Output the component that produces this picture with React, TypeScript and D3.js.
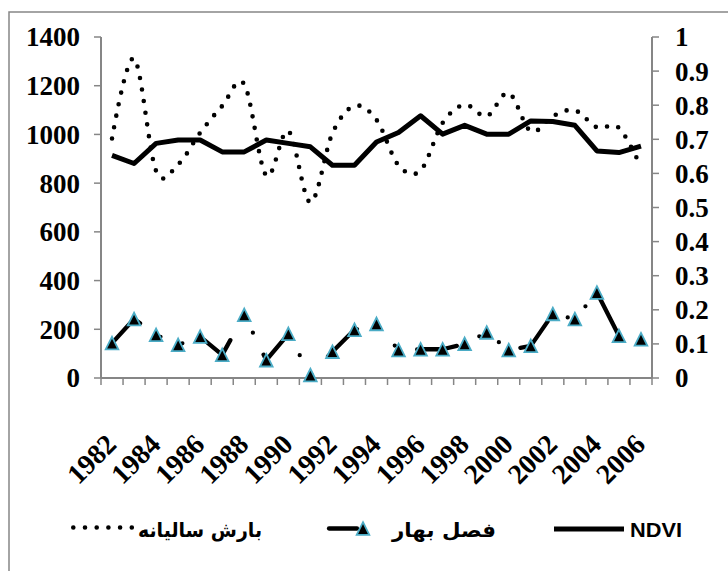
import React from "react";
import * as d3 from "d3";

const years = d3.range(1982, 2007).map(String);
const xTickLabels = ["1982","1984","1986","1988","1990","1992","1994","1996","1998","2000","2002","2004","2006"];
const leftTicks = [0, 200, 400, 600, 800, 1000, 1200, 1400];
const rightTicks = [0, 0.1, 0.2, 0.3, 0.4, 0.5, 0.6, 0.7, 0.8, 0.9, 1];

const ndvi = [0.653, 0.629, 0.688, 0.698, 0.698, 0.663, 0.663, 0.698, 0.688, 0.678, 0.624, 0.624, 0.692, 0.72, 0.769, 0.715, 0.741, 0.715, 0.715, 0.754, 0.752, 0.741, 0.666, 0.661, 0.68];
const annualRain = [983, 1312, 850, 877, 1007, 1117, 1206, 831, 1014, 721, 1005, 1117, 1060, 873, 852, 1047, 1122, 1075, 1170, 1013, 1075, 1099, 1029, 1027, 866];
const springRain = [143, 242, 177, 136, 170, 95, 259, 73, 181, 12, 108, 198, 222, 115, 118, 118, 140, 187, 115, 132, 263, 242, 351, 173, 159];

const legendNames = ["NDVI", "فصل بهار", "بارش سالیانه"];

const W = 728, H = 571;
const plot = { left: 101, right: 652, top: 37, bottom: 378 };
const axisColor = "#868686";
const markerStroke = "#4BACC6";
const serif = "Liberation Serif, Times New Roman, Tinos, DejaVu Serif, serif";
const sans = "Liberation Sans, Arial, sans-serif";
const arabic = "DejaVu Sans, sans-serif";

function triPath(s: number) {
  return `M0,${-s}L${s},${s}L${-s},${s}Z`;
}

export default function App() {
  const x = d3.scaleBand<string>().domain(years).range([plot.left, plot.right]);
  const cx = (i: number) => (x(years[i]) as number) + x.bandwidth() / 2;
  const yL = d3.scaleLinear().domain([0, 1400]).range([plot.bottom, plot.top]);
  const yR = d3.scaleLinear().domain([0, 1]).range([plot.bottom, plot.top]);

  const ndviLine = d3.line<number>().x((_, i) => cx(i)).y((d) => yR(d));
  const rainLine = d3.line<number>().x((_, i) => cx(i)).y((d) => yL(d)).curve(d3.curveCardinal.tension(0));
  const springLine = d3.line<number>().x((_, i) => cx(i)).y((d) => yL(d));

  const boundaries = d3.range(years.length + 1).map((i) => plot.left + i * x.step());

  return (
    <svg width={W} height={H} style={{ position: "absolute", left: 0, top: 0, background: "#fff" }}>
      <rect x={0} y={0} width={W} height={H} fill="#fff" />
      <rect x={9} y={12} width={W + 10} height={H + 10} fill="none" stroke={axisColor} strokeWidth={1.5} />

      {/* left axis */}
      <line x1={plot.left} x2={plot.left} y1={plot.top} y2={plot.bottom} stroke={axisColor} strokeWidth={2} />
      {leftTicks.map((t) => (
        <g key={"l" + t}>
          <line x1={plot.left - 7} x2={plot.left} y1={yL(t)} y2={yL(t)} stroke={axisColor} strokeWidth={1.5} />
          <text x={80} y={yL(t)} dy="0.35em" textAnchor="end" fontFamily={serif} fontWeight="bold" fontSize={27}>{t}</text>
        </g>
      ))}
      {/* right axis */}
      <line x1={plot.right} x2={plot.right} y1={plot.top} y2={plot.bottom} stroke={axisColor} strokeWidth={2} />
      {rightTicks.map((t) => (
        <g key={"r" + t}>
          <line x1={plot.right} x2={plot.right + 7} y1={yR(t)} y2={yR(t)} stroke={axisColor} strokeWidth={1.5} />
          <text x={675} y={yR(t)} dy="0.35em" textAnchor="start" fontFamily={serif} fontWeight="bold" fontSize={27}>{d3.format("~g")(t)}</text>
        </g>
      ))}
      {/* x axis */}
      <line x1={plot.left} x2={plot.right} y1={plot.bottom} y2={plot.bottom} stroke={axisColor} strokeWidth={2} />
      {boundaries.map((b, i) => (
        <line key={"b" + i} x1={b} x2={b} y1={plot.bottom} y2={plot.bottom + 7} stroke={axisColor} strokeWidth={1.5} />
      ))}
      {xTickLabels.map((lab) => {
        const i = years.indexOf(lab);
        const px = cx(i) + 6;
        const py = 446;
        return (
          <text key={lab} transform={`translate(${px},${py}) rotate(-45)`} textAnchor="end" fontFamily={serif} fontWeight="bold" fontSize={28}>{lab}</text>
        );
      })}

      {/* spring rainfall */}
      <path d={springLine(springRain) as string} fill="none" stroke="#000" strokeWidth={4.3} strokeLinecap="round" strokeLinejoin="round" strokeDasharray="40 24.6 0 23.9 0 24.5" />
      {springRain.map((v, i) => (
        <path key={"m" + i} d={triPath(6.3)} transform={`translate(${cx(i)},${yL(v)})`} fill="#000" stroke={markerStroke} strokeWidth={1.8} />
      ))}

      {/* annual rainfall */}
      <path d={rainLine(annualRain) as string} fill="none" stroke="#000" strokeWidth={4.6} strokeLinecap="round" strokeDasharray="0 11.7" />

      {/* NDVI */}
      <path d={ndviLine(ndvi) as string} fill="none" stroke="#000" strokeWidth={5} strokeLinejoin="round" />

      {/* legend */}
      <line x1={554} x2={624} y1={529} y2={529} stroke="#000" strokeWidth={5} />
      <text x={630} y={530} dy="0.35em" fontFamily={sans} fontWeight="bold" fontSize={20} textLength={52} lengthAdjust="spacingAndGlyphs">{legendNames[0]}</text>

      <line x1={329} x2={374} y1={528.5} y2={528.5} stroke="#000" strokeWidth={4.3} strokeLinecap="round" strokeDasharray="28 17 0 100" />
      <path d={triPath(6.3)} transform="translate(363,528.5)" fill="#000" stroke={markerStroke} strokeWidth={1.8} />
      <text x={392} y={530} dy="0.35em" fontFamily={arabic} fontWeight="bold" fontSize={20} textLength={104} lengthAdjust="spacingAndGlyphs">{legendNames[1]}</text>

      <line x1={73.3} x2={132} y1={527.5} y2={527.5} stroke="#000" strokeWidth={4.6} strokeLinecap="round" strokeDasharray="0 11.7" />
      <text x={138} y={530} dy="0.35em" fontFamily={arabic} fontWeight="bold" fontSize={20} textLength={124} lengthAdjust="spacingAndGlyphs">{legendNames[2]}</text>
    </svg>
  );
}
